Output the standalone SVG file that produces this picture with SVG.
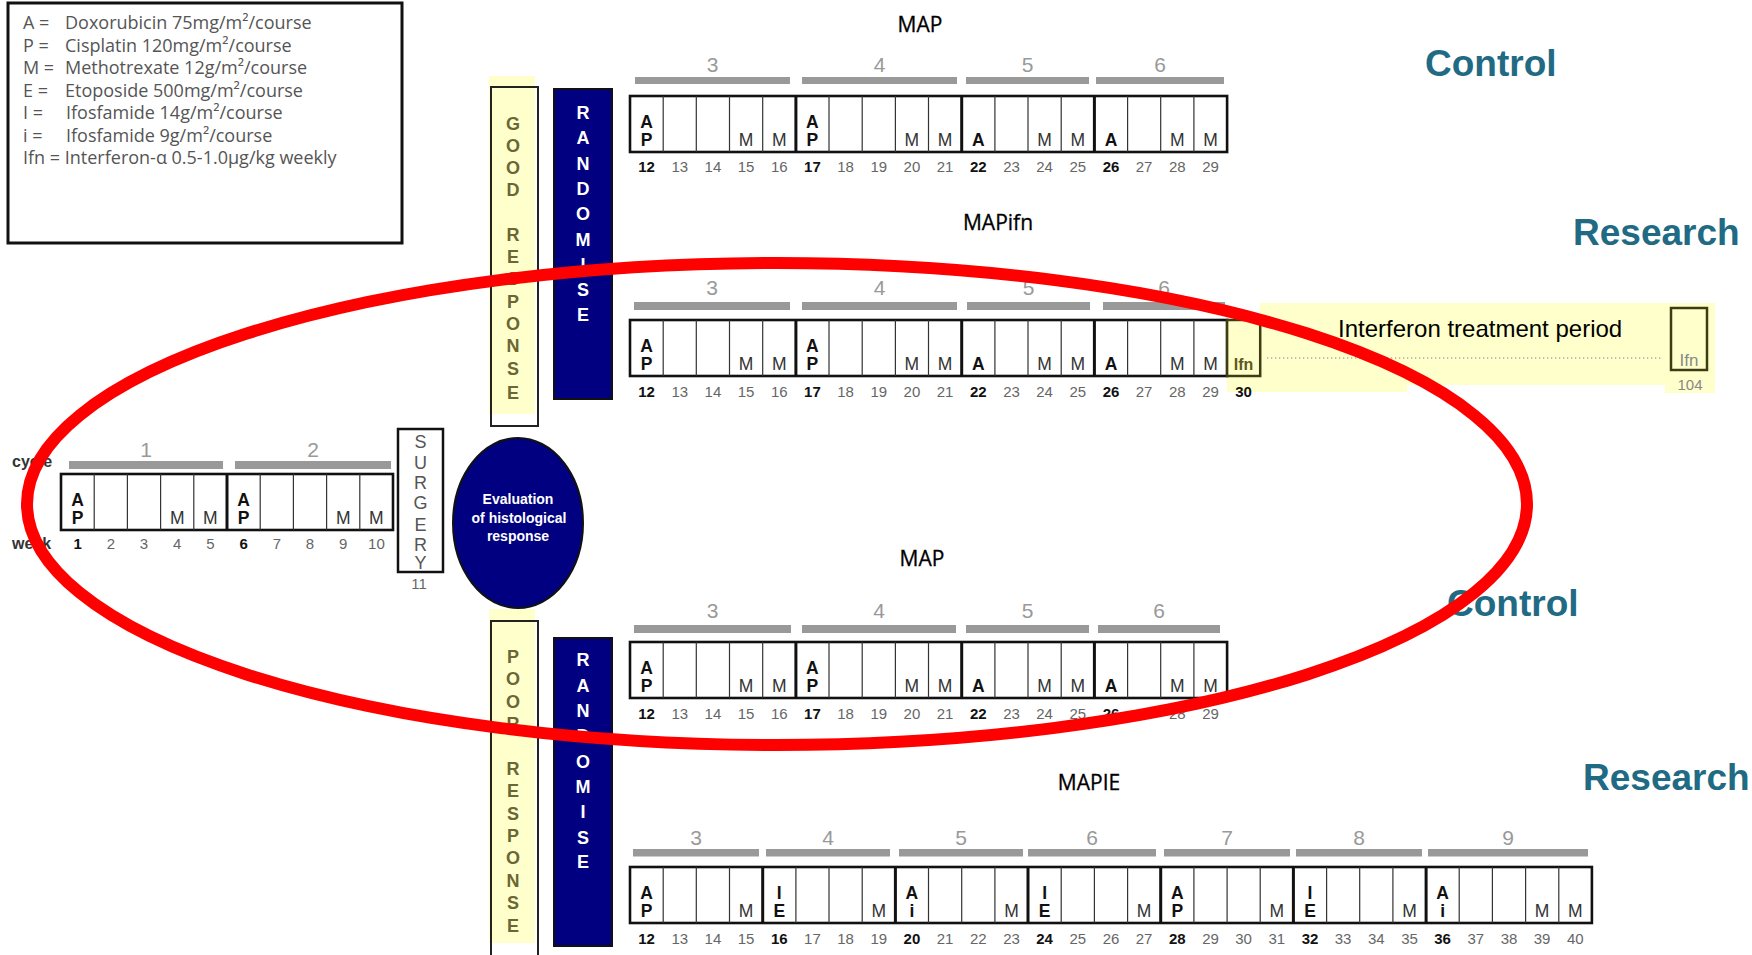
<svg xmlns="http://www.w3.org/2000/svg" width="1752" height="955" viewBox="0 0 1752 955">
<defs>
<style>
text{font-family:"Liberation Sans",Arial,sans-serif}
.leg{font-family:"Open Sans","Liberation Sans",sans-serif;font-size:18px;fill:#555}
.frame{fill:#fff;stroke:#111;stroke-width:2.6}
.thin{fill:none;stroke:#333;stroke-width:1.2}
.thick{fill:none;stroke:#111;stroke-width:3}
.bar{fill:#999}
.cn{font-size:21px;fill:#999;text-anchor:middle}
.wk{font-size:15px;fill:#666;text-anchor:middle}
.wkb{font-size:15px;fill:#111;font-weight:bold;text-anchor:middle}
.lt{font-size:17.5px;font-weight:bold;fill:#111;text-anchor:middle}
.m{font-size:17.5px;fill:#333;text-anchor:middle}
.title{font-family:"Open Sans","Liberation Sans",sans-serif;font-size:21px;fill:#000;text-anchor:middle;stroke:#000;stroke-width:0.3}
.lbl{font-size:37px;font-weight:bold;fill:#216a83}
.yel{fill:#ffffcc}
.ylet{font-size:18px;font-weight:bold;fill:#6b6633;text-anchor:middle}
.rlet{font-size:18px;font-weight:bold;fill:#fff;text-anchor:middle}
.navy{fill:#000080;stroke:#111;stroke-width:2}
.sbox{fill:none;stroke:#222;stroke-width:2}
.slet{font-size:18px;fill:#555;text-anchor:middle}
.ev{font-size:14px;font-weight:bold;fill:#fff;text-anchor:middle}
.side{font-size:16px;font-weight:bold;fill:#333}
</style>
</defs>
<rect width="1752" height="955" fill="#fff"/>

<g id="legend">
<rect x="8" y="3" width="394" height="240" fill="#fff" stroke="#111" stroke-width="3"/>
<text class="leg" x="23" y="29">A =</text><text class="leg" x="65" y="29">Doxorubicin 75mg/m²/course</text>
<text class="leg" x="23" y="52">P =</text><text class="leg" x="65" y="52">Cisplatin 120mg/m²/course</text>
<text class="leg" x="23" y="74">M =</text><text class="leg" x="65" y="74">Methotrexate 12g/m²/course</text>
<text class="leg" x="23" y="97">E =</text><text class="leg" x="65" y="97">Etoposide 500mg/m²/course</text>
<text class="leg" x="23" y="119">I =</text><text class="leg" x="66" y="119">Ifosfamide 14g/m²/course</text>
<text class="leg" x="23" y="142">i =</text><text class="leg" x="66" y="142">Ifosfamide 9g/m²/course</text>
<text class="leg" x="23" y="164">Ifn = Interferon-α 0.5-1.0μg/kg weekly</text>
</g>

<g id="preop">
<text class="side" x="12" y="467">cycle</text>
<text class="side" x="12" y="549">week</text>
<rect class="bar" x="69" y="461" width="154" height="8"/>
<rect class="bar" x="235" y="461" width="156" height="8"/>
<text class="cn" x="146" y="457">1</text>
<text class="cn" x="313" y="457">2</text>
<rect class="frame" x="61" y="474" width="332" height="56"/>
<path class="thin" d="M94.2 474V530M127.4 474V530M160.6 474V530M193.8 474V530M260.2 474V530M293.4 474V530M326.6 474V530M359.8 474V530"/>
<path class="thick" d="M227 474V530"/>
<text class="lt" x="77.6" y="506">A</text><text class="lt" x="77.6" y="524">P</text>
<text class="m" x="177.2" y="524">M</text><text class="m" x="210.4" y="524">M</text>
<text class="lt" x="243.6" y="506">A</text><text class="lt" x="243.6" y="524">P</text>
<text class="m" x="343.2" y="524">M</text><text class="m" x="376.4" y="524">M</text>
<text class="wkb" x="77.6" y="549">1</text><text class="wk" x="110.8" y="549">2</text><text class="wk" x="144" y="549">3</text><text class="wk" x="177.2" y="549">4</text><text class="wk" x="210.4" y="549">5</text><text class="wkb" x="243.6" y="549">6</text><text class="wk" x="276.8" y="549">7</text><text class="wk" x="310" y="549">8</text><text class="wk" x="343.2" y="549">9</text><text class="wk" x="376.4" y="549">10</text>
</g>

<g id="surgery">
<rect x="398" y="429" width="45" height="143" fill="#fff" stroke="#111" stroke-width="2.5"/>
<text class="slet" x="420.5" y="448">S</text><text class="slet" x="420.5" y="469">U</text><text class="slet" x="420.5" y="489">R</text><text class="slet" x="420.5" y="509">G</text><text class="slet" x="420.5" y="531">E</text><text class="slet" x="420.5" y="551">R</text><text class="slet" x="420.5" y="569">Y</text>
<text class="wk" x="419" y="589">11</text>
</g>

<g id="evaluation">
<ellipse cx="518" cy="523" rx="65" ry="85" fill="#000080" stroke="#111" stroke-width="2"/>
<text class="ev" x="518" y="504">Evaluation</text>
<text class="ev" x="519" y="523">of histological</text>
<text class="ev" x="518" y="541">response</text>
</g>

<g id="good-response">
<rect class="yel" x="489" y="76" width="46" height="338"/>
<rect class="sbox" x="491" y="87" width="47" height="339"/>
<text class="ylet" x="513" y="130">G</text><text class="ylet" x="513" y="152">O</text><text class="ylet" x="513" y="174">O</text><text class="ylet" x="513" y="196">D</text>
<text class="ylet" x="513" y="241">R</text><text class="ylet" x="513" y="263">E</text><text class="ylet" x="513" y="285">S</text><text class="ylet" x="513" y="308">P</text><text class="ylet" x="513" y="330">O</text><text class="ylet" x="513" y="352">N</text><text class="ylet" x="513" y="375">S</text><text class="ylet" x="513" y="399">E</text>
</g>

<g id="randomise-good">
<rect class="navy" x="554" y="89" width="58" height="310"/>
<text class="rlet" x="583" y="119">R</text><text class="rlet" x="583" y="144">A</text><text class="rlet" x="583" y="170">N</text><text class="rlet" x="583" y="195">D</text><text class="rlet" x="583" y="220">O</text><text class="rlet" x="583" y="246">M</text><text class="rlet" x="583" y="271">I</text><text class="rlet" x="583" y="296">S</text><text class="rlet" x="583" y="321">E</text>
</g>

<g id="poor-response">
<rect class="yel" x="489" y="609" width="46" height="334"/>
<rect class="sbox" x="491" y="621" width="47" height="345"/>
<text class="ylet" x="513" y="663">P</text><text class="ylet" x="513" y="685">O</text><text class="ylet" x="513" y="708">O</text><text class="ylet" x="513" y="730">R</text>
<text class="ylet" x="513" y="775">R</text><text class="ylet" x="513" y="797">E</text><text class="ylet" x="513" y="820">S</text><text class="ylet" x="513" y="842">P</text><text class="ylet" x="513" y="864">O</text><text class="ylet" x="513" y="887">N</text><text class="ylet" x="513" y="909">S</text><text class="ylet" x="513" y="932">E</text>
</g>

<g id="randomise-poor">
<rect class="navy" x="554" y="638" width="58" height="308"/>
<text class="rlet" x="583" y="666">R</text><text class="rlet" x="583" y="692">A</text><text class="rlet" x="583" y="717">N</text><text class="rlet" x="583" y="742">D</text><text class="rlet" x="583" y="768">O</text><text class="rlet" x="583" y="793">M</text><text class="rlet" x="583" y="818">I</text><text class="rlet" x="583" y="844">S</text><text class="rlet" x="583" y="868">E</text>
</g>

<g id="map-control-good">
<text class="title" x="920" y="32">MAP</text>
<rect class="bar" x="635" y="77" width="155" height="7"/><rect class="bar" x="802" y="77" width="155" height="7"/><rect class="bar" x="966" y="77" width="123" height="7"/><rect class="bar" x="1096" y="77" width="128" height="7"/>
<text class="cn" x="712.5" y="72">3</text><text class="cn" x="879.5" y="72">4</text><text class="cn" x="1027.5" y="72">5</text><text class="cn" x="1160" y="72">6</text>
<rect class="frame" x="630" y="96" width="597.1" height="56"/>
<path class="thin" d="M663.2 96V152M696.3 96V152M729.5 96V152M762.7 96V152M829 96V152M862.2 96V152M895.4 96V152M928.5 96V152M994.9 96V152M1028 96V152M1061.2 96V152M1127.6 96V152M1160.7 96V152M1193.9 96V152"/>
<path class="thick" d="M795.9 96V152M961.7 96V152M1094.4 96V152"/>
<text class="lt" x="646.6" y="128">A</text><text class="lt" x="646.6" y="146">P</text>
<text class="m" x="746.1" y="146">M</text><text class="m" x="779.3" y="146">M</text>
<text class="lt" x="812.4" y="128">A</text><text class="lt" x="812.4" y="146">P</text>
<text class="m" x="911.9" y="146">M</text><text class="m" x="945.1" y="146">M</text>
<text class="lt" x="978.3" y="146">A</text>
<text class="m" x="1044.6" y="146">M</text><text class="m" x="1077.8" y="146">M</text>
<text class="lt" x="1111" y="146">A</text>
<text class="m" x="1177.3" y="146">M</text><text class="m" x="1210.5" y="146">M</text>
<text class="wkb" x="646.6" y="172">12</text><text class="wk" x="679.8" y="172">13</text><text class="wk" x="712.9" y="172">14</text><text class="wk" x="746.1" y="172">15</text><text class="wk" x="779.3" y="172">16</text><text class="wkb" x="812.4" y="172">17</text><text class="wk" x="845.6" y="172">18</text><text class="wk" x="878.8" y="172">19</text><text class="wk" x="911.9" y="172">20</text><text class="wk" x="945.1" y="172">21</text><text class="wkb" x="978.3" y="172">22</text><text class="wk" x="1011.5" y="172">23</text><text class="wk" x="1044.6" y="172">24</text><text class="wk" x="1077.8" y="172">25</text><text class="wkb" x="1111" y="172">26</text><text class="wk" x="1144.1" y="172">27</text><text class="wk" x="1177.3" y="172">28</text><text class="wk" x="1210.5" y="172">29</text>
</g>

<g id="mapifn-research">
<rect class="yel" x="1260" y="303" width="455" height="82"/>
<rect class="yel" x="1227" y="376" width="180" height="16"/>
<rect class="yel" x="1665" y="380" width="50" height="13"/>
<text class="title" x="998" y="230">MAPifn</text>
<rect class="bar" x="634" y="302" width="156" height="8"/><rect class="bar" x="802" y="302" width="155" height="8"/><rect class="bar" x="967" y="302" width="123" height="8"/><rect class="bar" x="1103" y="302" width="122" height="8"/>
<text class="cn" x="712" y="295">3</text><text class="cn" x="879.5" y="295">4</text><text class="cn" x="1028.5" y="295">5</text><text class="cn" x="1164" y="295">6</text>
<rect class="frame" x="630" y="320" width="597.1" height="56"/>
<path class="thin" d="M663.2 320V376M696.3 320V376M729.5 320V376M762.7 320V376M829 320V376M862.2 320V376M895.4 320V376M928.5 320V376M994.9 320V376M1028 320V376M1061.2 320V376M1127.6 320V376M1160.7 320V376M1193.9 320V376"/>
<path class="thick" d="M795.9 320V376M961.7 320V376M1094.4 320V376"/>
<rect x="1227.1" y="320" width="33.1" height="56" fill="#ffffcc" stroke="#3d3d14" stroke-width="2.5"/>
<text class="lt" x="646.6" y="352">A</text><text class="lt" x="646.6" y="370">P</text>
<text class="m" x="746.1" y="370">M</text><text class="m" x="779.3" y="370">M</text>
<text class="lt" x="812.4" y="352">A</text><text class="lt" x="812.4" y="370">P</text>
<text class="m" x="911.9" y="370">M</text><text class="m" x="945.1" y="370">M</text>
<text class="lt" x="978.3" y="370">A</text>
<text class="m" x="1044.6" y="370">M</text><text class="m" x="1077.8" y="370">M</text>
<text class="lt" x="1111" y="370">A</text>
<text class="m" x="1177.3" y="370">M</text><text class="m" x="1210.5" y="370">M</text>
<text x="1243.6" y="370" font-size="16" font-weight="bold" fill="#5c5a1e" text-anchor="middle">Ifn</text>
<text class="wkb" x="646.6" y="397">12</text><text class="wk" x="679.8" y="397">13</text><text class="wk" x="712.9" y="397">14</text><text class="wk" x="746.1" y="397">15</text><text class="wk" x="779.3" y="397">16</text><text class="wkb" x="812.4" y="397">17</text><text class="wk" x="845.6" y="397">18</text><text class="wk" x="878.8" y="397">19</text><text class="wk" x="911.9" y="397">20</text><text class="wk" x="945.1" y="397">21</text><text class="wkb" x="978.3" y="397">22</text><text class="wk" x="1011.5" y="397">23</text><text class="wk" x="1044.6" y="397">24</text><text class="wk" x="1077.8" y="397">25</text><text class="wkb" x="1111" y="397">26</text><text class="wk" x="1144.1" y="397">27</text><text class="wk" x="1177.3" y="397">28</text><text class="wk" x="1210.5" y="397">29</text><text class="wkb" x="1243.6" y="397">30</text>
<text x="1338" y="337" font-size="24" fill="#000">Interferon treatment period</text>
<line x1="1267" y1="358" x2="1662" y2="358" stroke="#aaa" stroke-width="1.3" stroke-dasharray="1.3 2.7"/>
<rect x="1671" y="308" width="36" height="62" fill="none" stroke="#3d3d14" stroke-width="2.5"/>
<text x="1689" y="366" font-size="17" fill="#888" text-anchor="middle">Ifn</text>
<text x="1690" y="390" font-size="15" fill="#888" text-anchor="middle">104</text>
</g>

<g id="map-control-poor">
<text class="title" x="922" y="566">MAP</text>
<rect class="bar" x="634" y="625" width="157" height="8"/><rect class="bar" x="802" y="625" width="154" height="8"/><rect class="bar" x="966" y="625" width="123" height="8"/><rect class="bar" x="1098" y="625" width="122" height="8"/>
<text class="cn" x="712.5" y="618">3</text><text class="cn" x="879" y="618">4</text><text class="cn" x="1027.5" y="618">5</text><text class="cn" x="1159" y="618">6</text>
<rect class="frame" x="630" y="642" width="597.1" height="56"/>
<path class="thin" d="M663.2 642V698M696.3 642V698M729.5 642V698M762.7 642V698M829 642V698M862.2 642V698M895.4 642V698M928.5 642V698M994.9 642V698M1028 642V698M1061.2 642V698M1127.6 642V698M1160.7 642V698M1193.9 642V698"/>
<path class="thick" d="M795.9 642V698M961.7 642V698M1094.4 642V698"/>
<text class="lt" x="646.6" y="674">A</text><text class="lt" x="646.6" y="692">P</text>
<text class="m" x="746.1" y="692">M</text><text class="m" x="779.3" y="692">M</text>
<text class="lt" x="812.4" y="674">A</text><text class="lt" x="812.4" y="692">P</text>
<text class="m" x="911.9" y="692">M</text><text class="m" x="945.1" y="692">M</text>
<text class="lt" x="978.3" y="692">A</text>
<text class="m" x="1044.6" y="692">M</text><text class="m" x="1077.8" y="692">M</text>
<text class="lt" x="1111" y="692">A</text>
<text class="m" x="1177.3" y="692">M</text><text class="m" x="1210.5" y="692">M</text>
<text class="wkb" x="646.6" y="719">12</text><text class="wk" x="679.8" y="719">13</text><text class="wk" x="712.9" y="719">14</text><text class="wk" x="746.1" y="719">15</text><text class="wk" x="779.3" y="719">16</text><text class="wkb" x="812.4" y="719">17</text><text class="wk" x="845.6" y="719">18</text><text class="wk" x="878.8" y="719">19</text><text class="wk" x="911.9" y="719">20</text><text class="wk" x="945.1" y="719">21</text><text class="wkb" x="978.3" y="719">22</text><text class="wk" x="1011.5" y="719">23</text><text class="wk" x="1044.6" y="719">24</text><text class="wk" x="1077.8" y="719">25</text><text class="wkb" x="1111" y="719">26</text><text class="wk" x="1144.1" y="719">27</text><text class="wk" x="1177.3" y="719">28</text><text class="wk" x="1210.5" y="719">29</text>
</g>

<g id="mapie-research">
<text class="title" x="1089" y="790">MAPIE</text>
<rect class="bar" x="633" y="849" width="126" height="7.5"/><rect class="bar" x="766" y="849" width="124" height="7.5"/><rect class="bar" x="899" y="849" width="124" height="7.5"/><rect class="bar" x="1028" y="849" width="128" height="7.5"/><rect class="bar" x="1164" y="849" width="126" height="7.5"/><rect class="bar" x="1296" y="849" width="126" height="7.5"/><rect class="bar" x="1428" y="849" width="160" height="7.5"/>
<text class="cn" x="696" y="845">3</text><text class="cn" x="828" y="845">4</text><text class="cn" x="961" y="845">5</text><text class="cn" x="1092" y="845">6</text><text class="cn" x="1227" y="845">7</text><text class="cn" x="1359" y="845">8</text><text class="cn" x="1508" y="845">9</text>
<rect class="frame" x="630" y="867" width="961.9" height="56"/>
<path class="thin" d="M663.2 867V923M696.3 867V923M729.5 867V923M795.9 867V923M829 867V923M862.2 867V923M928.5 867V923M961.7 867V923M994.9 867V923M1061.2 867V923M1094.4 867V923M1127.6 867V923M1193.9 867V923M1227.1 867V923M1260.2 867V923M1326.6 867V923M1359.7 867V923M1392.9 867V923M1459.2 867V923M1492.4 867V923M1525.6 867V923M1558.8 867V923"/>
<path class="thick" d="M762.7 867V923M895.4 867V923M1028 867V923M1160.7 867V923M1293.4 867V923M1426.1 867V923"/>
<text class="lt" x="646.6" y="899">A</text><text class="lt" x="646.6" y="917">P</text>
<text class="m" x="746.1" y="917">M</text>
<text class="lt" x="779.3" y="899">I</text><text class="lt" x="779.3" y="917">E</text>
<text class="m" x="878.8" y="917">M</text>
<text class="lt" x="911.9" y="899">A</text><text class="lt" x="911.9" y="917">i</text>
<text class="m" x="1011.5" y="917">M</text>
<text class="lt" x="1044.6" y="899">I</text><text class="lt" x="1044.6" y="917">E</text>
<text class="m" x="1144.1" y="917">M</text>
<text class="lt" x="1177.3" y="899">A</text><text class="lt" x="1177.3" y="917">P</text>
<text class="m" x="1276.8" y="917">M</text>
<text class="lt" x="1310" y="899">I</text><text class="lt" x="1310" y="917">E</text>
<text class="m" x="1409.5" y="917">M</text>
<text class="lt" x="1442.6" y="899">A</text><text class="lt" x="1442.6" y="917">i</text>
<text class="m" x="1542.1" y="917">M</text><text class="m" x="1575.3" y="917">M</text>
<text class="wkb" x="646.6" y="944">12</text><text class="wk" x="679.8" y="944">13</text><text class="wk" x="712.9" y="944">14</text><text class="wk" x="746.1" y="944">15</text><text class="wkb" x="779.3" y="944">16</text><text class="wk" x="812.4" y="944">17</text><text class="wk" x="845.6" y="944">18</text><text class="wk" x="878.8" y="944">19</text><text class="wkb" x="911.9" y="944">20</text><text class="wk" x="945.1" y="944">21</text><text class="wk" x="978.3" y="944">22</text><text class="wk" x="1011.5" y="944">23</text><text class="wkb" x="1044.6" y="944">24</text><text class="wk" x="1077.8" y="944">25</text><text class="wk" x="1111" y="944">26</text><text class="wk" x="1144.1" y="944">27</text><text class="wkb" x="1177.3" y="944">28</text><text class="wk" x="1210.5" y="944">29</text><text class="wk" x="1243.6" y="944">30</text><text class="wk" x="1276.8" y="944">31</text><text class="wkb" x="1310" y="944">32</text><text class="wk" x="1343.1" y="944">33</text><text class="wk" x="1376.3" y="944">34</text><text class="wk" x="1409.5" y="944">35</text><text class="wkb" x="1442.6" y="944">36</text><text class="wk" x="1475.8" y="944">37</text><text class="wk" x="1509" y="944">38</text><text class="wk" x="1542.1" y="944">39</text><text class="wk" x="1575.3" y="944">40</text>
</g>

<g id="arm-labels">
<text class="lbl" x="1425" y="76">Control</text>
<text class="lbl" x="1573" y="245">Research</text>
<text class="lbl" x="1447" y="616">Control</text>
<text class="lbl" x="1583" y="790">Research</text>
</g>

<g id="connectors"></g>

<g id="highlight">
<ellipse cx="777" cy="504" rx="750" ry="241" fill="none" stroke="#ff0000" stroke-width="12"/>
</g>
</svg>
